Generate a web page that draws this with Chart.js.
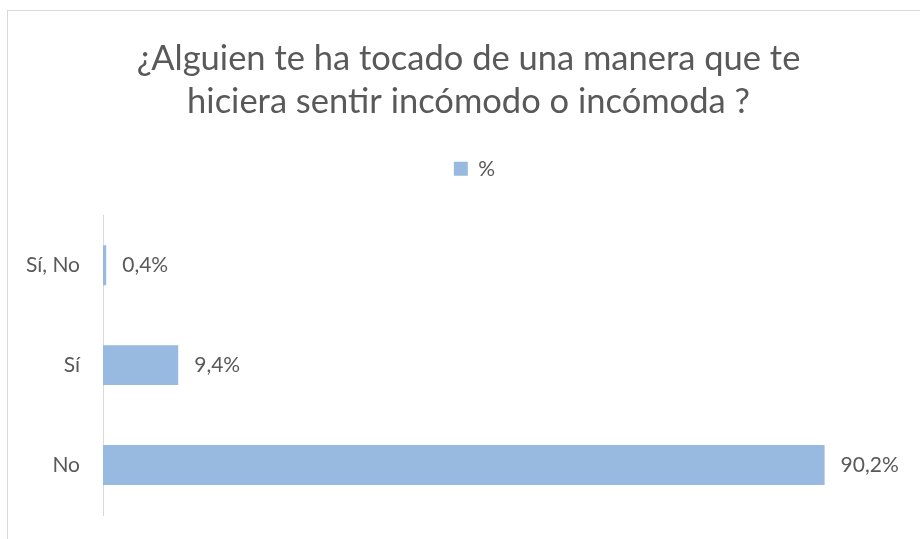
<!DOCTYPE html>
<html>
<head>
<meta charset="utf-8">
<script src="https://cdn.jsdelivr.net/npm/chart.js@4"></script>
<style>
html,body{margin:0;padding:0;background:#fff;}
#wrap{width:920px;height:539px;position:relative;}
</style>
</head>
<body>
<div id="wrap"><canvas id="c" width="920" height="539"></canvas></div>
<script>
const categories = ["Sí, No", "Sí", "No"];
const seriesName = "%";
const values = [0.4, 9.4, 90.2];
const titleLines = ["¿Alguien te ha tocado de una manera que te", "hiciera sentir incómodo o incómoda ?"];

const FONT = "Lato, 'Open Sans', sans-serif";
const TXT = "#595959";
const BAR = "#98b9e0";

const borderPlugin = {
  id: 'frame',
  beforeDraw(chart) {
    const ctx = chart.ctx;
    ctx.save();
    ctx.fillStyle = '#fff';
    ctx.fillRect(0, 0, chart.width, chart.height);
    ctx.strokeStyle = '#d9d9d9';
    ctx.lineWidth = 1;
    ctx.strokeRect(7.5, 10.5, chart.width + 10, chart.height + 10);
    ctx.restore();
  }
};

const labelPlugin = {
  id: 'dataLabels',
  afterDatasetsDraw(chart) {
    const ctx = chart.ctx;
    const meta = chart.getDatasetMeta(0);
    ctx.save();
    ctx.font = "21px " + FONT;
    ctx.fillStyle = TXT;
    ctx.textAlign = 'left';
    ctx.textBaseline = 'middle';
    meta.data.forEach((el, i) => {
      const txt = values[i].toFixed(1).replace('.', ',') + '%';
      ctx.fillText(txt, el.x + 16, el.y);
    });
    ctx.restore();
  }
};

const legendTweak = {
  id: 'legendTweak',
  afterInit(chart) {
    const lg = chart.legend;
    const origFit = lg.fit.bind(lg);
    lg.fit = function() { origFit(); this.height += 26; };
    const origDraw = lg.draw.bind(lg);
    lg.draw = function() {
      const ctx = this.ctx;
      ctx.save();
      ctx.translate(6, 0);
      origDraw();
      ctx.restore();
    };
  }
};

new Chart(document.getElementById('c'), {
  type: 'bar',
  data: {
    labels: categories,
    datasets: [{
      label: seriesName,
      data: values,
      backgroundColor: BAR,
      borderWidth: 0,
      categoryPercentage: 1,
      barPercentage: 0.4
    }]
  },
  options: {
    indexAxis: 'y',
    responsive: false,
    animation: false,
    devicePixelRatio: 1,
    layout: { padding: { left: 17, right: 0, top: 0, bottom: 24 } },
    plugins: {
      title: {
        display: true,
        text: titleLines,
        color: TXT,
        font: { family: FONT, size: 34.5, weight: 'normal', lineHeight: 1.25 },
        padding: { top: 37, bottom: 25 }
      },
      legend: {
        display: true,
        labels: {
          color: TXT,
          font: { family: FONT, size: 21 },
          boxWidth: 14,
          boxHeight: 14,
          padding: 10
        }
      },
      tooltip: { enabled: false }
    },
    scales: {
      x: { display: false, min: 0, max: 100 },
      y: {
        afterFit(scale) { scale.width = 86; },
        grid: { display: true, drawOnChartArea: false, drawTicks: true, tickLength: 20, color: 'rgba(0,0,0,0)' },
        border: { display: true, color: '#d9d9d9', width: 1 },
        ticks: { color: TXT, font: { family: FONT, size: 21 }, padding: 3 }
      },
      y2: {
        position: 'right',
        afterFit(scale) { scale.width = 17; },
        grid: { display: false, drawTicks: false },
        border: { display: false },
        ticks: { display: false, padding: 0 }
      }
    }
  },
  plugins: [borderPlugin, labelPlugin, legendTweak]
});
</script>
</body>
</html>
